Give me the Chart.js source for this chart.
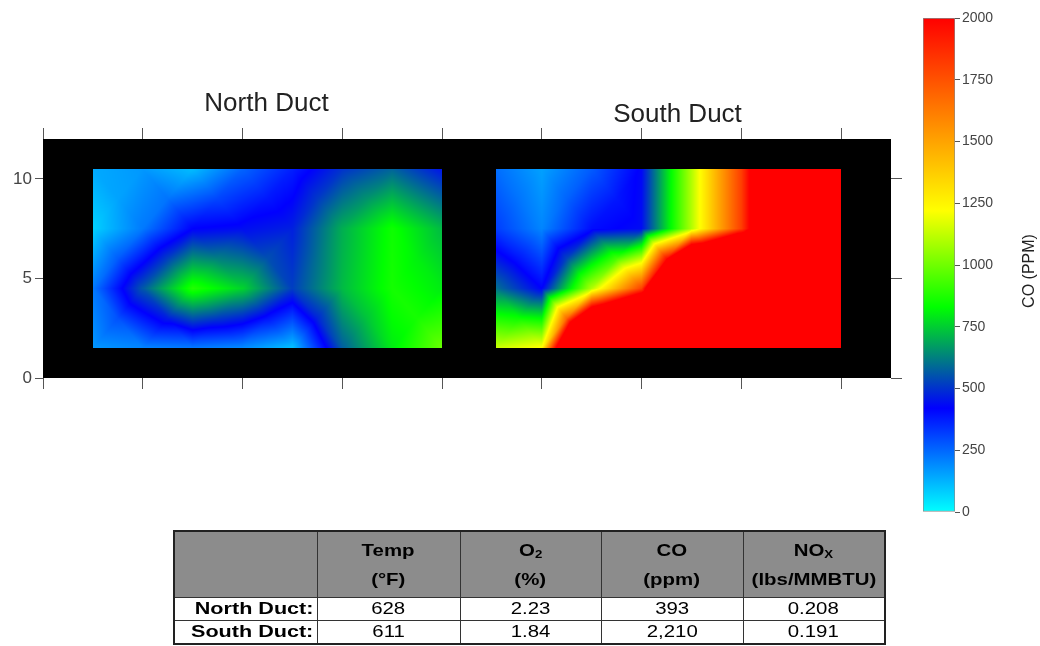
<!DOCTYPE html>
<html>
<head>
<meta charset="utf-8">
<title>CO distribution – North and South Duct</title>
<script src="https://cdn.jsdelivr.net/npm/chart.js@4.4.1/dist/chart.umd.min.js"></script>
<style>
  html, body { margin: 0; padding: 0; background: #fff; }
  #wrap { position: relative; width: 1040px; height: 646px; overflow: hidden;
          font-family: Arial, "Liberation Sans", Helvetica, sans-serif; }
  #main { position: absolute; left: 0; top: 0; }
  #scaleBar { position: absolute; left: 900px; top: 0; }
  #stats { position: absolute; left: 173px; top: 530px; width: 712px;
           border-collapse: collapse; table-layout: fixed; color: #000; border: 2px solid #222; }
  #stats td, #stats th { border: 1px solid #333; padding: 0; text-align: center; overflow: hidden; }
  #stats tr.head th { background: #8c8c8c; height: 65px; font-weight: bold;
                      font-size: 17px; line-height: 29px; }
  #stats tr.row td { height: 22px; font-size: 17px; line-height: 22px; background: #fff; }
  #stats tr.row td.name { text-align: right; font-weight: bold; padding-right: 3px; }
  #stats .w { display: inline-block; transform: scaleX(1.2); transform-origin: center; }
  #stats td.name .w { transform: scaleX(1.27); transform-origin: right center; }
  #stats sub { font-size: 11px; vertical-align: -2px; line-height: 0; }
</style>
</head>
<body>
<div id="wrap">
  <canvas id="main" width="1040" height="646"></canvas>
  <canvas id="scaleBar" width="140" height="530"></canvas>
  <table id="stats"></table>
</div>
<script>
// ---- measurement grid (traverse positions, ft) ----
const northX = [2.5, 5, 7.5, 10, 12.5, 15, 17.5, 20];
const southX = [22.7, 25, 27.5, 30, 32.5, 35, 37.5, 40];
const rowY   = [1.5, 4.5, 7.5, 10.5];

// CO readings (ppm), one row per depth, bottom row first
const northCO = [
  [170, 200, 220, 190, 100, 570, 800, 990],
  [220, 560, 880, 760, 520, 720, 860, 800],
  [ 75, 220, 420, 440, 470, 700, 850, 720],
  [140, 170, 110, 255, 370, 500, 580, 450]
];
const southCO = [
  [1140, 1230, 4000, 4500, 4500, 4500, 4500, 4500],
  [ 600,  420, 1100, 1800, 4500, 4500, 4500, 4500],
  [ 320,  200,  400,  440, 1100, 1810, 3000, 3000],
  [ 240,  155,  270,  430, 1100, 1810, 3000, 3000]
];

// duct outline (black frame) and axis ticks
const frameX = [0, 42.5];
const frameY = [0, 12];
const xTicks = [0, 5, 10, 15, 20, 25, 30, 35, 40];
const yTicks = [0, 5, 10];
const ductTitles = ['North Duct', 'South Duct'];

// colour scale
const scaleRange = [0, 2000];
const scaleTicks = [0, 250, 500, 750, 1000, 1250, 1500, 1750, 2000];
const scaleTitle = 'CO (PPM)';

// summary table
const tableHead = ['Temp<br>(°F)', 'O<sub>2</sub><br>(%)', 'CO<br>(ppm)', 'NO<sub>X</sub><br>(lbs/MMBTU)'];
const rowNames  = ['North Duct:', 'South Duct:'];
const tempF     = ['628', '611'];
const o2Pct     = ['2.23', '1.84'];
const coPpm     = ['393', '2,210'];
const noxLb     = ['0.208', '0.191'];

// rainbow map: cyan -> blue -> green -> yellow -> red
const cmapAt  = [0, 420, 830, 1220, 2000];
const cmapRGB = [[0,255,255],[0,0,255],[0,255,0],[255,255,0],[255,0,0]];

function colourOf(v) {
  if (v <= cmapAt[0]) return cmapRGB[0];
  const n = cmapAt.length;
  if (v >= cmapAt[n-1]) return cmapRGB[n-1];
  let i = 0;
  while (v > cmapAt[i+1]) i++;
  const t = (v - cmapAt[i]) / (cmapAt[i+1] - cmapAt[i]);
  const a = cmapRGB[i], b = cmapRGB[i+1];
  return [a[0]+(b[0]-a[0])*t, a[1]+(b[1]-a[1])*t, a[2]+(b[2]-a[2])*t];
}

function locate(arr, v) {
  let i = 0;
  while (i < arr.length - 2 && v > arr[i+1]) i++;
  const t = Math.min(1, Math.max(0, (v - arr[i]) / (arr[i+1] - arr[i])));
  return [i, t];
}

// linear interpolation, each grid cell split into four triangles about its centre
function sampleGrid(xs, ys, grid, xv, yv) {
  const [c, u] = locate(xs, xv);
  const [r, w] = locate(ys, yv);
  const a = grid[r][c], b = grid[r][c+1], tl = grid[r+1][c], tr = grid[r+1][c+1];
  const m = (a + b + tl + tr) / 4;
  const dx = u - 0.5, dy = w - 0.5;
  let lm, p, q, s, den;
  if (Math.abs(dy) >= Math.abs(dx)) {
    if (dy < 0) { lm = 2*w;     p = a;  q = b;  den = 1 - 2*w; s = (u - w) / den; }
    else        { lm = 2*(1-w); p = tl; q = tr; den = 2*w - 1; s = (u - 1 + w) / den; }
  } else {
    if (dx < 0) { lm = 2*u;     p = a;  q = tl; den = 1 - 2*u; s = (w - u) / den; }
    else        { lm = 2*(1-u); p = b;  q = tr; den = 2*u - 1; s = (w - 1 + u) / den; }
  }
  if (!(den > 1e-9)) return m;
  return lm*m + (1 - lm)*((1 - s)*p + s*q);
}

function paintField(ctx, sx, sy, xs, ys, grid) {
  const left = Math.round(sx.getPixelForValue(xs[0]));
  const right = Math.round(sx.getPixelForValue(xs[xs.length-1]));
  const top = Math.round(sy.getPixelForValue(ys[ys.length-1]));
  const bottom = Math.round(sy.getPixelForValue(ys[0]));
  const w = right - left, h = bottom - top;
  const off = document.createElement('canvas');
  off.width = w; off.height = h;
  const octx = off.getContext('2d');
  const img = octx.createImageData(w, h);
  for (let j = 0; j < h; j++) {
    const yv = sy.getValueForPixel(top + j + 0.5);
    for (let i = 0; i < w; i++) {
      const xv = sx.getValueForPixel(left + i + 0.5);
      const col = colourOf(sampleGrid(xs, ys, grid, xv, yv));
      const k = (j*w + i) * 4;
      img.data[k] = col[0]; img.data[k+1] = col[1]; img.data[k+2] = col[2]; img.data[k+3] = 255;
    }
  }
  octx.putImageData(img, 0, 0);
  ctx.drawImage(off, left, top);
}

const ductField = {
  id: 'ductField',
  beforeDatasetsDraw(chart) {
    const { ctx } = chart;
    const sx = chart.scales.x, sy = chart.scales.y;
    const x0 = sx.getPixelForValue(frameX[0]), x1 = sx.getPixelForValue(frameX[1]);
    const y0 = sy.getPixelForValue(frameY[0]), y1 = sy.getPixelForValue(frameY[1]);
    ctx.save();
    ctx.fillStyle = '#000';
    ctx.fillRect(x0, y1, x1 - x0, y0 - y1);
    paintField(ctx, sx, sy, northX, rowY, northCO);
    paintField(ctx, sx, sy, southX, rowY, southCO);
    ctx.restore();
  },
  afterDraw(chart) {
    const { ctx, chartArea } = chart;
    const sx = chart.scales.x;
    ctx.save();
    ctx.fillStyle = '#222';
    ctx.font = '26px Arial, "Liberation Sans", sans-serif';
    ctx.textAlign = 'center';
    ctx.textBaseline = 'alphabetic';
    ctx.fillText(ductTitles[0], sx.getPixelForValue(11.2), chartArea.top - 28);
    ctx.fillText(ductTitles[1], sx.getPixelForValue(31.8), chartArea.top - 17);
    ctx.restore();
  }
};

const tickColour = '#555';
const labelFont = 'Arial, "Liberation Sans", sans-serif';
function fixedTicks(list) { return (s) => { s.ticks = list.map(v => ({ value: v })); }; }
function axis(position, min, max, list, tickLength, size, showLabels) {
  return {
    type: 'linear', position, min, max,
    afterBuildTicks: fixedTicks(list),
    ticks: { display: showLabels, color: '#444', padding: 3,
             font: { size: 17, family: labelFont } },
    grid: { drawOnChartArea: false, drawTicks: true, tickLength, color: tickColour, lineWidth: 1 },
    border: { display: false },
    afterFit: (s) => { if (position === 'left' || position === 'right') s.width = size; else s.height = size; }
  };
}

const nodePoints = [];
[[northX, northCO], [southX, southCO]].forEach(([xs, g]) =>
  rowY.forEach((yv, r) => xs.forEach((xv, c) => nodePoints.push({ x: xv, y: yv, v: g[r][c] }))));

new Chart(document.getElementById('main'), {
  type: 'scatter',
  data: { datasets: [{ data: nodePoints, pointRadius: 0, pointHoverRadius: 0, xAxisID: 'x', yAxisID: 'y' }] },
  options: {
    responsive: false, animation: false, events: [],
    layout: { padding: 0 },
    plugins: { legend: { display: false }, tooltip: { enabled: false } },
    scales: {
      x:      axis('bottom', frameX[0], frameX[1], xTicks, 11, 646 - 378, false),
      xTop:   axis('top',    frameX[0], frameX[1], xTicks, 11, 139, false),
      y:      axis('left',   frameY[0], frameY[1], yTicks, 8, 43, true),
      yRight: axis('right',  frameY[0], frameY[1], yTicks, 11, 1040 - 891, false)
    }
  },
  plugins: [ductField]
});

// colour scale bar
const scaleBarTitle = {
  id: 'scaleBarTitle',
  afterDraw(chart) {
    const { ctx, chartArea } = chart;
    ctx.save();
    ctx.translate(chartArea.right + 75, (chartArea.top + chartArea.bottom) / 2 + 6);
    ctx.rotate(-Math.PI / 2);
    ctx.fillStyle = '#222';
    ctx.font = '16px ' + labelFont;
    ctx.textAlign = 'center';
    ctx.textBaseline = 'middle';
    ctx.fillText(scaleTitle, 0, 0);
    ctx.restore();
  }
};

new Chart(document.getElementById('scaleBar'), {
  type: 'bar',
  data: {
    labels: ['CO'],
    datasets: [{
      data: [[scaleRange[0], scaleRange[1]]],
      backgroundColor: (c) => {
        const area = c.chart.chartArea;
        if (!area) return '#f00';
        const g = c.chart.ctx.createLinearGradient(0, area.bottom, 0, area.top);
        cmapAt.forEach((v, i) => {
          const col = cmapRGB[i];
          g.addColorStop(v / scaleRange[1], `rgb(${col[0]},${col[1]},${col[2]})`);
        });
        return g;
      },
      borderColor: '#8a8a8a', borderWidth: 1, borderSkipped: false,
      barPercentage: 1, categoryPercentage: 1
    }]
  },
  options: {
    responsive: false, animation: false, events: [],
    layout: { padding: { left: 23, top: 18, bottom: 18, right: 0 } },
    plugins: { legend: { display: false }, tooltip: { enabled: false } },
    scales: {
      x: { display: false },
      y: {
        position: 'right', min: scaleRange[0], max: scaleRange[1],
        afterBuildTicks: fixedTicks(scaleTicks),
        ticks: { color: '#444', padding: 2, font: { size: 14, family: labelFont },
                 callback: (v) => String(v) },
        grid: { drawOnChartArea: false, tickLength: 5, color: tickColour },
        border: { display: false },
        afterFit: (s) => { s.width = 85; }
      }
    }
  },
  plugins: [scaleBarTitle]
});

// summary table
(function buildTable() {
  const t = document.getElementById('stats');
  const wrapText = (s) => `<span class="w">${s}</span>`;
  let html = '<colgroup><col style="width:143px"><col style="width:143px"><col style="width:141px"><col style="width:142px"><col style="width:142px"></colgroup>';
  html += '<tr class="head"><th></th>' + tableHead.map(h => `<th>${h.split('<br>').map(wrapText).join('<br>')}</th>`).join('') + '</tr>';
  rowNames.forEach((n, i) => {
    html += `<tr class="row"><td class="name">${wrapText(n)}</td>` +
            [tempF[i], o2Pct[i], coPpm[i], noxLb[i]].map(v => `<td>${wrapText(v)}</td>`).join('') + '</tr>';
  });
  t.innerHTML = html;
})();
</script>
</body>
</html>
